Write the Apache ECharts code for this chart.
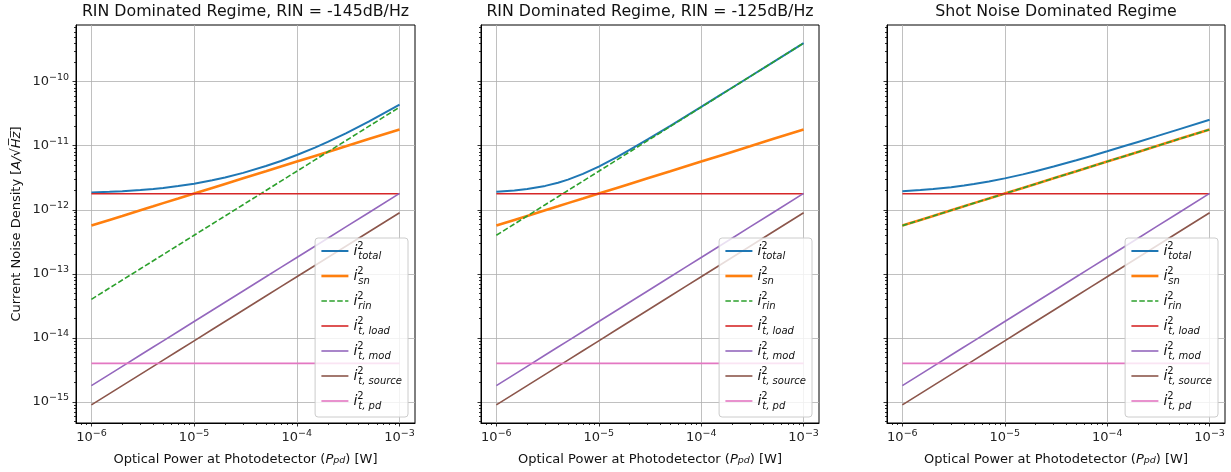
<!DOCTYPE html>
<html><head><meta charset="utf-8">
<script src="https://cdn.jsdelivr.net/npm/echarts@6/dist/echarts.min.js"></script>
<style>html,body{margin:0;padding:0;background:#fff}#c{width:1231px;height:472px}</style>
</head><body><div id="c"></div>
<script>
// ---------------- data ----------------
const power = [1e-6, 1.5e-6, 2e-6, 3e-6, 4e-6, 5e-6, 7e-6, 1e-5, 1.5e-5, 2e-5, 3e-5, 5e-5, 7e-5, 1e-4, 1.5e-4, 2e-4, 3e-4, 5e-4, 1e-3];
const panelTitles = ['RIN Dominated Regime, RIN = -145dB/Hz', 'RIN Dominated Regime, RIN = -125dB/Hz', 'Shot Noise Dominated Regime'];
const seriesNames = ['total', 'sn', 'rin', 't, load', 't, mod', 't, source', 't, pd'];

const shotNoise   = [5.66e-13, 6.93e-13, 8.00e-13, 9.80e-13, 1.132e-12, 1.27e-12, 1.498e-12, 1.79e-12, 2.192e-12, 2.53e-12, 3.10e-12, 4.00e-12, 4.736e-12, 5.66e-12, 6.932e-12, 8.00e-12, 9.80e-12, 1.27e-11, 1.79e-11];
const loadNoise   = [1.78e-12, 1.78e-12, 1.78e-12, 1.78e-12, 1.78e-12, 1.78e-12, 1.78e-12, 1.78e-12, 1.78e-12, 1.78e-12, 1.78e-12, 1.78e-12, 1.78e-12, 1.78e-12, 1.78e-12, 1.78e-12, 1.78e-12, 1.78e-12, 1.78e-12];
const modNoise    = [1.8e-15, 2.7e-15, 3.6e-15, 5.4e-15, 7.2e-15, 9e-15, 1.26e-14, 1.8e-14, 2.7e-14, 3.6e-14, 5.4e-14, 9e-14, 1.26e-13, 1.8e-13, 2.7e-13, 3.6e-13, 5.4e-13, 9e-13, 1.8e-12];
const sourceNoise = [9e-16, 1.35e-15, 1.8e-15, 2.7e-15, 3.6e-15, 4.5e-15, 6.3e-15, 9e-15, 1.35e-14, 1.8e-14, 2.7e-14, 4.5e-14, 6.3e-14, 9e-14, 1.35e-13, 1.8e-13, 2.7e-13, 4.5e-13, 9e-13];
const pdNoise     = [4e-15, 4e-15, 4e-15, 4e-15, 4e-15, 4e-15, 4e-15, 4e-15, 4e-15, 4e-15, 4e-15, 4e-15, 4e-15, 4e-15, 4e-15, 4e-15, 4e-15, 4e-15, 4e-15];

const rinPanel1   = [4e-14, 6e-14, 8e-14, 1.2e-13, 1.6e-13, 2e-13, 2.8e-13, 4e-13, 6e-13, 8e-13, 1.2e-12, 2e-12, 2.8e-12, 4e-12, 6e-12, 8e-12, 1.2e-11, 2e-11, 4e-11];
const totalPanel1 = [1.868e-12, 1.911e-12, 1.953e-12, 2.035e-12, 2.115e-12, 2.193e-12, 2.342e-12, 2.555e-12, 2.886e-12, 3.195e-12, 3.77e-12, 4.814e-12, 5.782e-12, 7.16e-12, 9.341e-12, 1.146e-11, 1.561e-11, 2.375e-11, 4.39e-11];
const rinPanel2   = [4e-13, 6e-13, 8e-13, 1.2e-12, 1.6e-12, 2e-12, 2.8e-12, 4e-12, 6e-12, 8e-12, 1.2e-11, 2e-11, 2.8e-11, 4e-11, 6e-11, 8e-11, 1.2e-10, 2e-10, 4e-10];
const totalPanel2 = [1.910e-12, 2.002e-12, 2.109e-12, 2.360e-12, 2.647e-12, 2.961e-12, 3.640e-12, 4.73e-12, 6.631e-12, 8.58e-12, 1.252e-11, 2.047e-11, 2.845e-11, 4.04e-11, 6.043e-11, 8.04e-11, 1.204e-10, 2.004e-10, 4.004e-10];
const rinPanel3   = [5.66e-13, 6.93e-13, 8.00e-13, 9.80e-13, 1.132e-12, 1.27e-12, 1.498e-12, 1.79e-12, 2.192e-12, 2.53e-12, 3.10e-12, 4.00e-12, 4.736e-12, 5.66e-12, 6.932e-12, 8.00e-12, 9.80e-12, 1.27e-11, 1.79e-11];
const totalPanel3 = [1.951e-12, 2.032e-12, 2.109e-12, 2.256e-12, 2.393e-12, 2.523e-12, 2.766e-12, 3.093e-12, 3.573e-12, 3.996e-12, 4.73e-12, 5.931e-12, 6.927e-12, 8.198e-12, 9.963e-12, 1.146e-11, 1.398e-11, 1.800e-11, 2.544e-11];

const xMajorTicks = [1e-6, 1e-5, 1e-4, 1e-3];
const yMajorTicks = [1e-15, 1e-14, 1e-13, 1e-12, 1e-11, 1e-10];
const xMinorTicks = [8e-7, 9e-7,
  2e-6, 3e-6, 4e-6, 5e-6, 6e-6, 7e-6, 8e-6, 9e-6,
  2e-5, 3e-5, 4e-5, 5e-5, 6e-5, 7e-5, 8e-5, 9e-5,
  2e-4, 3e-4, 4e-4, 5e-4, 6e-4, 7e-4, 8e-4, 9e-4];
const yMinorTicks = [5e-16, 6e-16, 7e-16, 8e-16, 9e-16,
  2e-15, 3e-15, 4e-15, 5e-15, 6e-15, 7e-15, 8e-15, 9e-15,
  2e-14, 3e-14, 4e-14, 5e-14, 6e-14, 7e-14, 8e-14, 9e-14,
  2e-13, 3e-13, 4e-13, 5e-13, 6e-13, 7e-13, 8e-13, 9e-13,
  2e-12, 3e-12, 4e-12, 5e-12, 6e-12, 7e-12, 8e-12, 9e-12,
  2e-11, 3e-11, 4e-11, 5e-11, 6e-11, 7e-11, 8e-11, 9e-11,
  2e-10, 3e-10, 4e-10, 5e-10, 6e-10, 7e-10];

// ---------------- layout / style ----------------
const X_MIN = 7.08e-7, X_MAX = 1.413e-3;
const Y_MIN = 4.69e-16, Y_MAX = 7.67e-10;
const FONT = 'DejaVu Sans';
const grids = [{left: 76, width: 339}, {left: 481, width: 338}, {left: 887, width: 338}];
const GRID_TOP = 25, GRID_H = 398;
const legendRight = [823, 419, 13];

const panels = [
  {rin: rinPanel1, total: totalPanel1},
  {rin: rinPanel2, total: totalPanel2},
  {rin: rinPanel3, total: totalPanel3}
];
const seriesStyles = [
  {color: '#1f77b4', width: 2, type: 'solid'},
  {color: '#ff7f0e', width: 2.6, type: 'solid'},
  {color: '#2ca02c', width: 1.6, type: [5.5, 2.4]},
  {color: '#d62728', width: 1.6, type: 'solid'},
  {color: '#9467bd', width: 1.6, type: 'solid'},
  {color: '#8c564b', width: 1.6, type: 'solid'},
  {color: '#e377c2', width: 1.6, type: 'solid'}
];

function expLabel(v) {
  const e = Math.round(Math.log10(v));
  return '{b|10}{e|' + (e < 0 ? '\u2212' : '') + Math.abs(e) + '}';
}
const tickRich = {
  b: {fontSize: 13, fontFamily: FONT, color: '#222', lineHeight: 18},
  e: {fontSize: 9.5, fontFamily: FONT, color: '#222', verticalAlign: 'top', lineHeight: 9}
};
const tickLine = {color: '#000', width: 0.8};

const option = {
  animation: false,
  backgroundColor: '#fff',
  title: [], grid: [], xAxis: [], yAxis: [], series: [], legend: []
};

panels.forEach((pd, p) => {
  const g = grids[p];
  option.title.push({
    text: panelTitles[p], left: g.left + g.width / 2, top: 4, textAlign: 'center', padding: 0,
    textStyle: {fontFamily: FONT, fontSize: 15.8, fontWeight: 'normal', color: '#111'}
  });
  option.grid.push({left: g.left, width: g.width, top: GRID_TOP, height: GRID_H, show: true,
    borderColor: '#000', borderWidth: 1, backgroundColor: 'transparent'});
  // major x
  option.xAxis.push({
    type: 'log', gridIndex: p, position: 'bottom', min: X_MIN, max: X_MAX,
    axisLine: {show: true, onZero: false, lineStyle: {color: '#000', width: 1}},
    axisTick: {show: true, customValues: xMajorTicks, length: 3.5, lineStyle: tickLine},
    axisLabel: {customValues: xMajorTicks, formatter: expLabel, rich: tickRich, margin: 6},
    splitLine: {show: true, lineStyle: {color: '#b0b0b0', width: 0.8}},
    name: 'Optical Power at Photodetector ({it|P}{sub|pd}) [W]', nameLocation: 'middle', nameGap: 30,
    nameTextStyle: {fontFamily: FONT, fontSize: 13, color: '#111',
      rich: {it: {fontFamily: FONT, fontSize: 13, fontStyle: 'italic', color: '#111'},
             sub: {fontFamily: FONT, fontSize: 9.5, fontStyle: 'italic', color: '#111', verticalAlign: 'bottom', lineHeight: 10}}}
  });
  // minor x
  option.xAxis.push({
    type: 'log', gridIndex: p, position: 'bottom', min: X_MIN, max: X_MAX,
    axisLine: {show: false, onZero: false},
    axisTick: {show: true, customValues: xMinorTicks, length: 2, lineStyle: tickLine},
    axisLabel: {show: false}, splitLine: {show: false}
  });
  // major y
  option.yAxis.push({
    type: 'log', gridIndex: p, position: 'left', min: Y_MIN, max: Y_MAX,
    axisLine: {show: true, onZero: false, lineStyle: {color: '#000', width: 1}},
    axisTick: {show: true, customValues: yMajorTicks, length: 3.5, lineStyle: tickLine},
    axisLabel: {show: p === 0, customValues: yMajorTicks, formatter: expLabel, rich: tickRich, margin: 7},
    splitLine: {show: true, lineStyle: {color: '#b0b0b0', width: 0.8}},
    name: p === 0 ? 'Current Noise Density [{it|A/\u221AH\u0305z\u0305}]' : '', nameLocation: 'middle', nameGap: 53,
    nameTextStyle: {fontFamily: FONT, fontSize: 13, color: '#111',
      rich: {it: {fontFamily: FONT, fontSize: 13, fontStyle: 'italic', color: '#111'}}}
  });
  // minor y
  option.yAxis.push({
    type: 'log', gridIndex: p, position: 'left', min: Y_MIN, max: Y_MAX,
    axisLine: {show: false, onZero: false},
    axisTick: {show: true, customValues: yMinorTicks, length: 2, lineStyle: tickLine},
    axisLabel: {show: false}, splitLine: {show: false}
  });

  const values = [pd.total, shotNoise, pd.rin, loadNoise, modNoise, sourceNoise, pdNoise];
  values.forEach((vals, k) => {
    const st = seriesStyles[k];
    option.series.push({
      type: 'line', name: seriesNames[k], xAxisIndex: p * 2, yAxisIndex: p * 2,
      data: power.map((x, i) => [x, vals[i]]),
      showSymbol: false, symbol: 'circle', silent: true, smooth: false,
      itemStyle: {color: st.color},
      lineStyle: {color: st.color, width: st.width, type: st.type},
      emphasis: {disabled: true}, z: 2 + k * 0.01
    });
  });

  option.legend.push({
    orient: 'vertical', right: legendRight[p], top: 238,
    data: seriesNames, selectedMode: false,
    itemWidth: 27, itemHeight: 20, itemGap: 5, padding: [3, 6, 6, 5],
    backgroundColor: 'rgba(255,255,255,0.8)', borderColor: '#cccccc', borderWidth: 1, borderRadius: 3,
    itemStyle: {opacity: 0},
    lineStyle: {width: 'inherit', type: 'inherit'},
    formatter: n => '{i|i}{s|2}{t|' + n + '}',
    textStyle: {fontFamily: FONT, color: '#111',
      rich: {
        i: {fontFamily: FONT, fontSize: 14, fontStyle: 'italic', color: '#111', lineHeight: 20},
        s: {fontFamily: FONT, fontSize: 10, color: '#111', width: 1, verticalAlign: 'top', lineHeight: 10},
        t: {fontFamily: FONT, fontSize: 10, fontStyle: 'italic', color: '#111', verticalAlign: 'bottom', lineHeight: 10}
      }}
  });
});

const chart = echarts.init(document.getElementById('c'), null, {renderer: 'canvas'});
chart.setOption(option);
</script>
</body></html>
